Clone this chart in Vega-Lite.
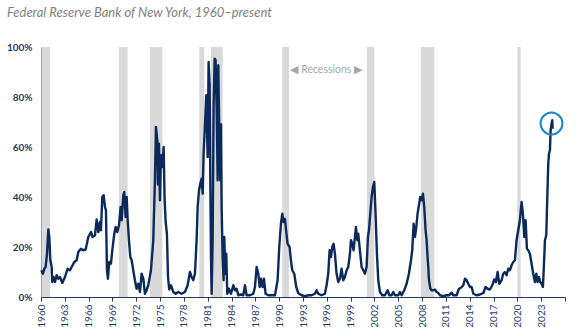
{
  "$schema": "https://vega.github.io/schema/vega-lite/v6.json",
  "width": 524,
  "height": 250,
  "autosize": {"type": "none"},
  "padding": {"left": 41, "top": 47, "right": 11, "bottom": 33},
  "title": {
    "text": "Federal Reserve Bank of New York, 1960–present",
    "anchor": "start",
    "frame": "group",
    "dx": -34,
    "offset": 12,
    "baseline": "alphabetic",
    "font": "Lato",
    "fontStyle": "italic",
    "fontWeight": "normal",
    "fontSize": 13,
    "color": "#7f7f7f"
  },
  "config": {"view": {"stroke": null}},
  "datasets": {
    "rec": [
      {"start": 1960.1, "end": 1961.15},
      {"start": 1969.82, "end": 1970.91},
      {"start": 1973.72, "end": 1975.28},
      {"start": 1979.94, "end": 1980.57},
      {"start": 1981.41, "end": 1982.88},
      {"start": 1990.39, "end": 1991.23},
      {"start": 2001.05, "end": 2001.98},
      {"start": 2007.85, "end": 2009.53},
      {"start": 2019.99, "end": 2020.41}
    ],
    "prob": [
      {"t": 1960.04, "p": 10.7}, {"t": 1960.25, "p": 9.3}, {"t": 1960.42, "p": 11.3}, {"t": 1960.58, "p": 12},
      {"t": 1960.75, "p": 17}, {"t": 1960.92, "p": 27}, {"t": 1961.05, "p": 24}, {"t": 1961.17, "p": 15},
      {"t": 1961.34, "p": 12}, {"t": 1961.42, "p": 6}, {"t": 1961.59, "p": 8}, {"t": 1961.76, "p": 6},
      {"t": 1961.97, "p": 8.7}, {"t": 1962.18, "p": 7.3}, {"t": 1962.39, "p": 8}, {"t": 1962.68, "p": 5.6},
      {"t": 1963.02, "p": 8}, {"t": 1963.35, "p": 11.3}, {"t": 1963.65, "p": 10.7}, {"t": 1963.86, "p": 12},
      {"t": 1964.19, "p": 14}, {"t": 1964.49, "p": 14.7}, {"t": 1964.7, "p": 18}, {"t": 1965.03, "p": 19.3},
      {"t": 1965.33, "p": 18.7}, {"t": 1965.62, "p": 19}, {"t": 1965.96, "p": 24}, {"t": 1966.29, "p": 26},
      {"t": 1966.5, "p": 24}, {"t": 1966.8, "p": 24.7}, {"t": 1967.01, "p": 31}, {"t": 1967.22, "p": 26},
      {"t": 1967.43, "p": 30}, {"t": 1967.55, "p": 26.7}, {"t": 1967.72, "p": 40}, {"t": 1967.89, "p": 40.7},
      {"t": 1968.06, "p": 36}, {"t": 1968.18, "p": 34.7}, {"t": 1968.31, "p": 10.7}, {"t": 1968.43, "p": 7.3},
      {"t": 1968.6, "p": 14}, {"t": 1968.81, "p": 13.3}, {"t": 1968.98, "p": 18.7}, {"t": 1969.23, "p": 25.3},
      {"t": 1969.4, "p": 28}, {"t": 1969.61, "p": 26}, {"t": 1969.82, "p": 28.7}, {"t": 1970.03, "p": 36},
      {"t": 1970.16, "p": 30.7}, {"t": 1970.37, "p": 40.7}, {"t": 1970.49, "p": 42}, {"t": 1970.66, "p": 32},
      {"t": 1970.79, "p": 40}, {"t": 1970.91, "p": 31.3}, {"t": 1971.08, "p": 22.7}, {"t": 1971.25, "p": 16},
      {"t": 1971.42, "p": 14.7}, {"t": 1971.62, "p": 10.7}, {"t": 1971.83, "p": 6.7}, {"t": 1972.04, "p": 3.3},
      {"t": 1972.25, "p": 5.3}, {"t": 1972.47, "p": 2}, {"t": 1972.67, "p": 9.3}, {"t": 1972.89, "p": 7.3},
      {"t": 1973.09, "p": 1.3}, {"t": 1973.3, "p": 2.7}, {"t": 1973.51, "p": 4.7}, {"t": 1973.85, "p": 10.7},
      {"t": 1974.14, "p": 22.7}, {"t": 1974.35, "p": 46.7}, {"t": 1974.48, "p": 68}, {"t": 1974.65, "p": 62.7},
      {"t": 1974.73, "p": 45}, {"t": 1974.86, "p": 61.3}, {"t": 1974.98, "p": 38.7}, {"t": 1975.11, "p": 56.7},
      {"t": 1975.28, "p": 52}, {"t": 1975.45, "p": 60}, {"t": 1975.57, "p": 38.7}, {"t": 1975.7, "p": 30},
      {"t": 1975.86, "p": 25.3}, {"t": 1976.0, "p": 8}, {"t": 1976.15, "p": 3}, {"t": 1976.37, "p": 4.7},
      {"t": 1976.66, "p": 2}, {"t": 1976.96, "p": 1.3}, {"t": 1977.29, "p": 2}, {"t": 1977.71, "p": 1.3},
      {"t": 1978.13, "p": 2}, {"t": 1978.47, "p": 4.7}, {"t": 1978.76, "p": 10}, {"t": 1978.97, "p": 8},
      {"t": 1979.18, "p": 6.7}, {"t": 1979.39, "p": 9.3}, {"t": 1979.6, "p": 22.7}, {"t": 1979.73, "p": 36},
      {"t": 1979.9, "p": 42.7}, {"t": 1980.06, "p": 45.3}, {"t": 1980.23, "p": 47.3}, {"t": 1980.36, "p": 41.3},
      {"t": 1980.48, "p": 57}, {"t": 1980.65, "p": 69}, {"t": 1980.82, "p": 80.7}, {"t": 1980.99, "p": 56},
      {"t": 1981.11, "p": 94}, {"t": 1981.24, "p": 85}, {"t": 1981.32, "p": 49}, {"t": 1981.41, "p": 16},
      {"t": 1981.49, "p": 1.3}, {"t": 1981.62, "p": 22.7}, {"t": 1981.74, "p": 76}, {"t": 1981.87, "p": 95.3},
      {"t": 1981.99, "p": 94.7}, {"t": 1982.12, "p": 76}, {"t": 1982.25, "p": 46.7}, {"t": 1982.33, "p": 92.7},
      {"t": 1982.46, "p": 65}, {"t": 1982.58, "p": 46.7}, {"t": 1982.67, "p": 69}, {"t": 1982.75, "p": 36},
      {"t": 1982.88, "p": 16}, {"t": 1983.0, "p": 6.7}, {"t": 1983.09, "p": 24}, {"t": 1983.21, "p": 9.3},
      {"t": 1983.34, "p": 17.3}, {"t": 1983.46, "p": 1.3}, {"t": 1983.67, "p": 3.3}, {"t": 1983.93, "p": 1.3},
      {"t": 1984.22, "p": 4.7}, {"t": 1984.43, "p": 2.7}, {"t": 1984.64, "p": 3.3}, {"t": 1984.85, "p": 0.7},
      {"t": 1985.19, "p": 1}, {"t": 1985.48, "p": 0.7}, {"t": 1985.69, "p": 4.7}, {"t": 1985.9, "p": 0.7},
      {"t": 1986.32, "p": 0.7}, {"t": 1986.74, "p": 1.3}, {"t": 1986.95, "p": 4}, {"t": 1987.16, "p": 12},
      {"t": 1987.37, "p": 9.3}, {"t": 1987.54, "p": 4}, {"t": 1987.7, "p": 7.3}, {"t": 1987.91, "p": 4},
      {"t": 1988.08, "p": 7.3}, {"t": 1988.29, "p": 1.3}, {"t": 1988.63, "p": 0.7}, {"t": 1989.05, "p": 0.7},
      {"t": 1989.47, "p": 0.7}, {"t": 1989.8, "p": 6.7}, {"t": 1990.01, "p": 20}, {"t": 1990.22, "p": 29.3},
      {"t": 1990.39, "p": 33.3}, {"t": 1990.56, "p": 30}, {"t": 1990.73, "p": 31.3}, {"t": 1990.89, "p": 26},
      {"t": 1991.06, "p": 21.3}, {"t": 1991.31, "p": 20}, {"t": 1991.48, "p": 14.7}, {"t": 1991.65, "p": 10.7},
      {"t": 1991.9, "p": 9.3}, {"t": 1992.15, "p": 4}, {"t": 1992.41, "p": 1.5}, {"t": 1992.83, "p": 0.7},
      {"t": 1993.24, "p": 0.3}, {"t": 1993.66, "p": 0.7}, {"t": 1994.08, "p": 0.7}, {"t": 1994.5, "p": 1.3},
      {"t": 1994.71, "p": 2.7}, {"t": 1994.92, "p": 1.3}, {"t": 1995.34, "p": 0.7}, {"t": 1995.76, "p": 1.3},
      {"t": 1995.97, "p": 4.7}, {"t": 1996.18, "p": 9.3}, {"t": 1996.35, "p": 18.7}, {"t": 1996.52, "p": 16},
      {"t": 1996.69, "p": 20}, {"t": 1996.85, "p": 21.3}, {"t": 1997.02, "p": 17.3}, {"t": 1997.23, "p": 9.3},
      {"t": 1997.44, "p": 6}, {"t": 1997.65, "p": 7.3}, {"t": 1997.86, "p": 11.3}, {"t": 1998.07, "p": 6.7},
      {"t": 1998.28, "p": 8}, {"t": 1998.49, "p": 10.7}, {"t": 1998.7, "p": 12}, {"t": 1998.91, "p": 17.3},
      {"t": 1999.04, "p": 22.7}, {"t": 1999.21, "p": 21.3}, {"t": 1999.37, "p": 18.7}, {"t": 1999.54, "p": 24},
      {"t": 1999.67, "p": 28}, {"t": 1999.84, "p": 22.7}, {"t": 1999.96, "p": 25.3}, {"t": 2000.17, "p": 18.7},
      {"t": 2000.38, "p": 12}, {"t": 2000.59, "p": 10.7}, {"t": 2000.8, "p": 9.3}, {"t": 2001.01, "p": 12},
      {"t": 2001.18, "p": 24}, {"t": 2001.31, "p": 26.7}, {"t": 2001.47, "p": 33.3}, {"t": 2001.64, "p": 40},
      {"t": 2001.81, "p": 44}, {"t": 2001.98, "p": 46}, {"t": 2002.14, "p": 33.3}, {"t": 2002.31, "p": 17.3},
      {"t": 2002.48, "p": 6.7}, {"t": 2002.69, "p": 2}, {"t": 2002.98, "p": 0.7}, {"t": 2003.32, "p": 0.7},
      {"t": 2003.66, "p": 2.7}, {"t": 2003.87, "p": 0.7}, {"t": 2004.16, "p": 0.7}, {"t": 2004.37, "p": 2},
      {"t": 2004.58, "p": 0.7}, {"t": 2005.0, "p": 0.7}, {"t": 2005.21, "p": 2}, {"t": 2005.42, "p": 0.7},
      {"t": 2005.75, "p": 2.7}, {"t": 2006.05, "p": 5.3}, {"t": 2006.34, "p": 9.3}, {"t": 2006.6, "p": 14.7},
      {"t": 2006.76, "p": 18.7}, {"t": 2006.93, "p": 29.3}, {"t": 2007.1, "p": 24}, {"t": 2007.27, "p": 28},
      {"t": 2007.43, "p": 33.3}, {"t": 2007.6, "p": 36.7}, {"t": 2007.77, "p": 40}, {"t": 2007.94, "p": 38.7},
      {"t": 2008.11, "p": 41.3}, {"t": 2008.27, "p": 36}, {"t": 2008.44, "p": 26.7}, {"t": 2008.57, "p": 22.7},
      {"t": 2008.69, "p": 16}, {"t": 2008.78, "p": 12}, {"t": 2008.86, "p": 7}, {"t": 2009.03, "p": 3.5},
      {"t": 2009.2, "p": 2.7}, {"t": 2009.41, "p": 2.7}, {"t": 2009.62, "p": 3}, {"t": 2009.83, "p": 2},
      {"t": 2010.04, "p": 1.6}, {"t": 2010.25, "p": 0.7}, {"t": 2010.67, "p": 0.3}, {"t": 2011.09, "p": 0.7},
      {"t": 2011.38, "p": 0.7}, {"t": 2011.72, "p": 1.7}, {"t": 2011.93, "p": 0.7}, {"t": 2012.35, "p": 0.7},
      {"t": 2012.64, "p": 3.3}, {"t": 2012.89, "p": 3.7}, {"t": 2013.19, "p": 4.7}, {"t": 2013.4, "p": 7.3},
      {"t": 2013.61, "p": 6.7}, {"t": 2013.82, "p": 5.3}, {"t": 2014.03, "p": 4}, {"t": 2014.24, "p": 4},
      {"t": 2014.45, "p": 1.3}, {"t": 2014.87, "p": 0.7}, {"t": 2015.29, "p": 1}, {"t": 2015.71, "p": 1.6},
      {"t": 2016.0, "p": 4}, {"t": 2016.25, "p": 3.3}, {"t": 2016.54, "p": 3}, {"t": 2016.84, "p": 4.7},
      {"t": 2017.09, "p": 7}, {"t": 2017.3, "p": 6}, {"t": 2017.51, "p": 10}, {"t": 2017.72, "p": 5.3},
      {"t": 2018.01, "p": 6.7}, {"t": 2018.22, "p": 9.3}, {"t": 2018.43, "p": 10}, {"t": 2018.64, "p": 8.7},
      {"t": 2018.85, "p": 11.3}, {"t": 2019.06, "p": 10.7}, {"t": 2019.27, "p": 12.7}, {"t": 2019.48, "p": 14},
      {"t": 2019.69, "p": 14.7}, {"t": 2019.9, "p": 22.7}, {"t": 2020.11, "p": 26.7}, {"t": 2020.32, "p": 30.7},
      {"t": 2020.53, "p": 38}, {"t": 2020.7, "p": 33.3}, {"t": 2020.87, "p": 24}, {"t": 2021.04, "p": 30.7},
      {"t": 2021.2, "p": 19.3}, {"t": 2021.37, "p": 18.7}, {"t": 2021.58, "p": 17.3}, {"t": 2021.79, "p": 13.3},
      {"t": 2022.0, "p": 9.3}, {"t": 2022.21, "p": 6}, {"t": 2022.38, "p": 9.3}, {"t": 2022.55, "p": 6},
      {"t": 2022.72, "p": 8}, {"t": 2022.88, "p": 6}, {"t": 2023.05, "p": 5.3}, {"t": 2023.22, "p": 4},
      {"t": 2023.39, "p": 16}, {"t": 2023.47, "p": 22.7}, {"t": 2023.64, "p": 24.7}, {"t": 2023.77, "p": 40},
      {"t": 2023.89, "p": 53.3}, {"t": 2023.98, "p": 57.3}, {"t": 2024.1, "p": 58.7}, {"t": 2024.19, "p": 66.7},
      {"t": 2024.31, "p": 69.3}, {"t": 2024.4, "p": 70.7}, {"t": 2024.44, "p": 67.3}
    ],
    "label": [{"t": 1995.93, "p": 91, "txt": "◀ Recessions ▶"}],
    "mark": [{"t": 2024.3, "p": 69.4}]
  },
  "encoding": {
    "x": {
      "field": "t", "type": "quantitative",
      "scale": {"domain": [1960, 2026], "nice": false, "zero": false},
      "axis": {
        "title": null, "grid": false,
        "values": [1960, 1963, 1966, 1969, 1972, 1975, 1978, 1981, 1984, 1987, 1990, 1993, 1996, 1999, 2002, 2005, 2008, 2011, 2014, 2017, 2020, 2023, 2026],
        "labelExpr": "datum.value == 2026 ? '' : format(datum.value, 'd')",
        "labelAngle": 270, "labelFont": "Lato", "labelFontSize": 10, "labelColor": "#1f3864",
        "labelPadding": 3, "domainColor": "#1f3864", "domainWidth": 1.2,
        "tickColor": "#1f3864", "tickSize": 4, "labelOverlap": false, "labelBound": false
      }
    }
  },
  "layer": [
    {
      "data": {"name": "rec"},
      "mark": {"type": "rect", "color": "#d9d9d9"},
      "encoding": {"x": {"field": "start", "type": "quantitative"}, "x2": {"field": "end"}}
    },
    {
      "data": {"name": "prob"},
      "mark": {"type": "line", "color": "#0b2a5a", "strokeWidth": 2.4, "strokeJoin": "round"},
      "encoding": {
        "y": {
          "field": "p", "type": "quantitative",
          "scale": {"domain": [0, 100], "nice": false},
          "axis": {
            "title": null, "grid": false, "ticks": false,
            "values": [0, 20, 40, 60, 80, 100],
            "labelExpr": "datum.value + '%'",
            "labelFont": "Lato", "labelFontSize": 10, "labelFontWeight": "bold", "labelColor": "#1f3864",
            "labelPadding": 9, "domainColor": "#8497b0", "domainWidth": 1
          }
        }
      }
    },
    {
      "data": {"name": "label"},
      "mark": {"type": "text", "font": "Lato", "fontSize": 10.5, "color": "#a6a6a6", "align": "center", "baseline": "middle"},
      "encoding": {"y": {"field": "p", "type": "quantitative"}, "text": {"field": "txt"}}
    },
    {
      "data": {"name": "mark"},
      "mark": {"type": "point", "shape": "circle", "filled": false, "size": 480, "stroke": "#1b87cc", "strokeWidth": 2, "opacity": 1},
      "encoding": {"y": {"field": "p", "type": "quantitative"}}
    }
  ]
}
